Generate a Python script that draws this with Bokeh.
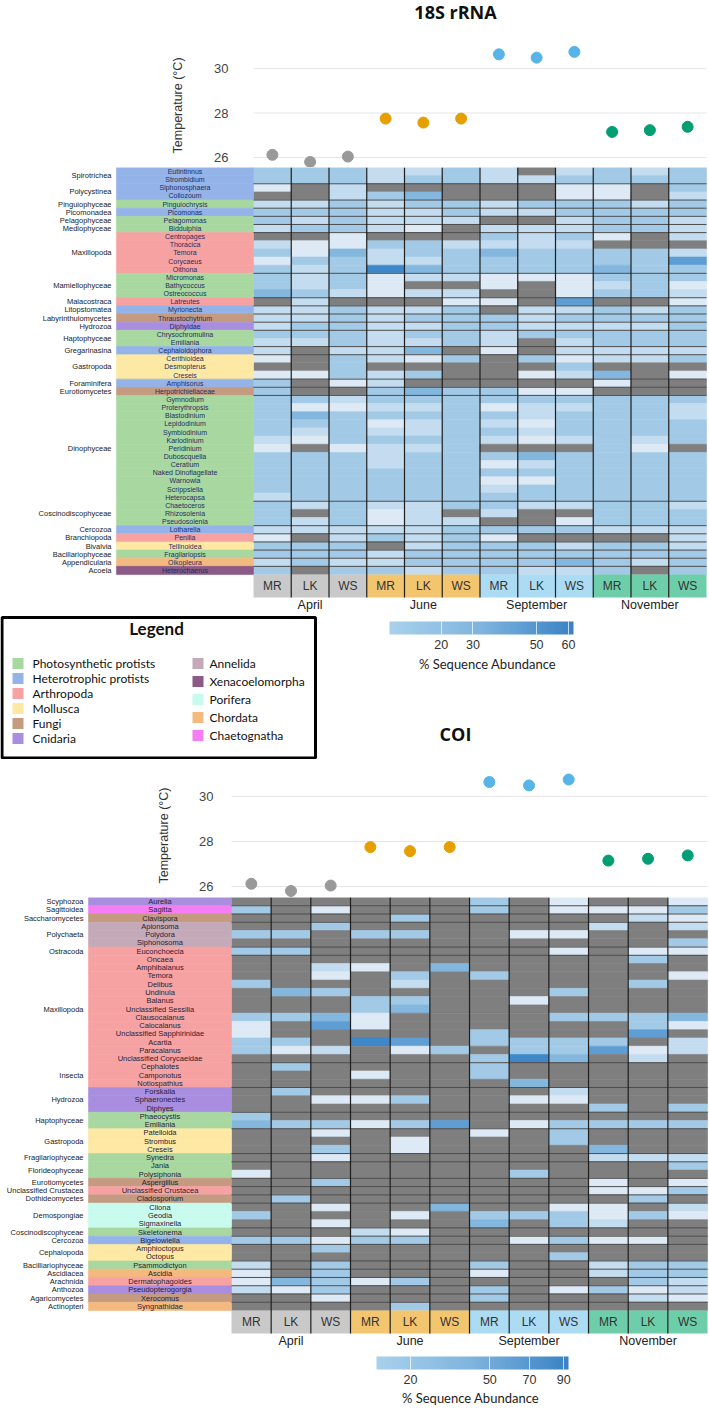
import math
from bokeh.plotting import figure
from bokeh.layouts import column
from bokeh.models import (ColumnDataSource, Range1d, LinearColorMapper, LogColorMapper,
                          ColorBar, FixedTicker, Label, CustomJSTickFormatter)
from bokeh.core.properties import value
from bokeh.embed import file_html
from bokeh.resources import INLINE

# ---------------------------------------------------------------- data
months = ["April", "June", "September", "November"]
sites = ["MR", "LK", "WS"]
month_colors = ["#999999", "#E69F00", "#56B4E9", "#009E73"]
header_colors = ["#c9c9c9", "#f2c56e", "#acdbf4", "#6fceaa"]
temperature = [26.12, 25.80, 26.04, 27.75, 27.57, 27.75, 30.64, 30.49, 30.75, 27.15, 27.23, 27.38]
temp_ticks = [26, 28, 30]

group_names = ["Photosynthetic protists", "Heterotrophic protists", "Arthropoda", "Mollusca",
               "Fungi", "Cnidaria", "Annelida", "Xenacoelomorpha", "Porifera", "Chordata",
               "Chaetognatha"]
group_codes = ["P", "H", "A", "M", "F", "C", "An", "X", "Po", "Ch", "Cg"]
group_colors = ["#a8d8a0", "#94b3e9", "#f7a2a2", "#fde8a4", "#c49a80", "#a98ee0",
                "#c4a9b9", "#8c5a86", "#c8fbee", "#f4b97f", "#f67ef4"]

# level code per cell: 0 = absent (grey), 1..6 = increasing abundance
level_percent = [float("nan"), 1.0, 3.0, 8.0, 16.0, 30.0, 55.0]

genus_18s = ["Eutintinnus", "Strombidium", "Siphonosphaera", "Collozoum", "Pinguiochrysis",
             "Picomonas", "Pelagomonas", "Biddulphia", "Centropages", "Thoracica", "Temora",
             "Corycaeus", "Oithona", "Micromonas", "Bathycoccus", "Ostreococcus", "Latreutes",
             "Myrionecta", "Thraustochytrium", "Diphyidae", "Chrysochromulina", "Emiliania",
             "Cephaloidophora", "Cerithioidea", "Desmopterus", "Creseis", "Amphisorus",
             "Herpotrichiellaceae", "Gymnodium", "Proterythropsis", "Blastodinium",
             "Lepidodinium", "Symbiodinium", "Karlodinium", "Peridinium", "Duboscquella",
             "Ceratium", "Naked Dinoflagellate", "Warnowia", "Scrippsiella", "Heterocapsa",
             "Chaetoceros", "Rhizosolenia", "Pseudosolenia", "Lotharella", "Penilia",
             "Tellinoidea", "Fragilariopsis", "Oikopleura", "Heterochaerus"]
class_names_18s = ["Spirotrichea", "Polycystinea", "Pinguiophyceae", "Picomonadea",
                   "Pelagophyceae", "Mediophyceae", "Maxillopoda", "Mamiellophyceae",
                   "Malacostraca", "Litopstomatea", "Labyrinthulomycetes", "Hydrozoa",
                   "Haptophyceae", "Gregarinasina", "Gastropoda", "Foraminifera",
                   "Eurotiomycetes", "Dinophyceae", "Coscinodiscophyceae", "Cercozoa",
                   "Branchiopoda", "Bivalvia", "Bacillariophyceae", "Appendicularia", "Acoela"]
class_sizes_18s = [2, 2, 1, 1, 1, 1, 5, 3, 1, 1, 1, 1, 2, 1, 3, 1, 1, 13, 3, 1, 1, 1, 1, 1, 1]
group_18s = ["H", "H", "H", "H", "P", "H", "P", "P", "A", "A", "A", "A", "A", "P", "P", "P",
             "A", "H", "F", "C", "P", "P", "H", "M", "M", "M", "H", "F",
             "P", "P", "P", "P", "P", "P", "P", "P", "P", "P", "P", "P", "P",
             "P", "P", "P", "H", "A", "M", "P", "Ch", "X"]
levels_18s = ["333223202323", "333233223333", "102000001103", "002340001102",
              "223233233323", "333223223333", "323222002332", "233210222332",
              "001000323102", "211332222000", "314233433332", "133223333335",
              "323643333433", "323122111333", "323100101231", "432122001332",
              "020001105001", "223223022323", "223233323333", "233223322223",
              "333233233333", "223223202333", "202240102222", "103213031223",
              "003000003000", "113230012401", "301200000100", "300343311000",
              "332333333333", "311223122332", "343333323332", "333123213333",
              "323223323333", "213333212323", "101223000310", "333233343333",
              "333233123333", "333333333333", "333333113333", "333333233333",
              "233333333333", "323223322332", "303120200333", "323122001333",
              "222223333222", "102323100002", "333023332332", "333233333333",
              "232233334323", "303323322303"]

genus_coi = ["Aurelia", "Sagitta", "Clavispora", "Apionsoma", "Polydora", "Siphonosoma",
             "Euconchoecia", "Oncaea", "Amphibalanus", "Temora", "Delibus", "Undinula",
             "Balanus", "Unclassified Sessilia", "Clausocalanus", "Calocalanus",
             "Unclassified Sapphirinidae", "Acartia", "Paracalanus", "Unclassified Corycaeidae",
             "Cephalotes", "Camponotus", "Notiospathius", "Forskalia", "Sphaeronectes",
             "Diphyes", "Phaeocystis", "Emiliania", "Patelloida", "Strombus", "Creseis",
             "Synedra", "Jania", "Polysiphonia", "Aspergillus", "Unclassified Crustacea",
             "Cladosporium", "Cliona", "Geodia", "Sigmaxinella", "Skeletonema", "Bigelowiella",
             "Amphioctopus", "Octopus", "Psammodictyon", "Ascidia", "Dermatophagoides",
             "Pseudopterogorgia", "Xerocomus", "Syngnathidae"]
class_names_coi = ["Scyphozoa", "Sagittoidea", "Saccharomycetes", "Polychaeta", "Ostracoda",
                   "Maxillopoda", "Insecta", "Hydrozoa", "Haptophyceae", "Gastropoda",
                   "Fragilariophyceae", "Florideophyceae", "Eurotiomycetes",
                   "Unclassified Crustacea", "Dothideomycetes", "Demospongiae",
                   "Coscinodiscophyceae", "Cercozoa", "Cephalopoda", "Bacilliariophyceae",
                   "Ascidiacea", "Arachnida", "Anthozoa", "Agaricomycetes", "Actinopteri"]
class_sizes_coi = [1, 1, 1, 3, 1, 13, 3, 3, 2, 3, 1, 2, 1, 1, 1, 3, 1, 1, 2, 1, 1, 1, 1, 1, 1]
group_coi = ["C", "Cg", "F", "An", "An", "An", "A",
             "A", "A", "A", "A", "A", "A", "A", "A", "A", "A", "A", "A", "A",
             "A", "A", "A", "C", "C", "C", "P", "P", "M", "M", "M", "P", "P", "P",
             "F", "A", "F", "Po", "Po", "Po", "P", "H", "M", "M", "P", "Ch", "A", "C", "F", "Ch"]
levels_coi = ["000000301001", "301000301113", "000030000021", "003000000202",
              "330330011000", "000000000003", "330000001011", "000000000030",
              "002104000000", "001030300001", "300020000030", "043000003000",
              "000330010000", "000340000000", "334100003334", "105100000031",
              "100000300050", "330650333302", "312013033512", "000000364020",
              "030000300000", "000100300000", "000000040000", "030000002000",
              "001130011000", "000000000303", "300000000000", "433135013333",
              "001000103000", "000010003000", "003010000400", "001000000222",
              "000000000003", "100000030000", "003000000101", "000000000113",
              "030000000030", "001004001102", "300010333131", "001000403200",
              "000210000000", "331330013110", "003000000000", "000000003000",
              "203000300233", "103000100233", "143130000032", "213000301312",
              "001000300021", "000030000000"]

cbar_18s_range = [3.75, 61.6]
cbar_18s_ticks = [20, 30, 50, 60]
cbar_coi_range = [11.3, 93.0]
cbar_coi_ticks = [20, 50, 70, 90]

# ---------------------------------------------------------------- styling helpers
W = 709
FONT = "Liberation Sans"


def hex2rgb(h):
    h = h.lstrip("#")
    return tuple(int(h[i:i + 2], 16) for i in (0, 2, 4))


def ramp(stops, n=256):
    out = []
    for k in range(n):
        t = k / (n - 1)
        for a in range(len(stops) - 1):
            t0, c0 = stops[a]
            t1, c1 = stops[a + 1]
            if t0 <= t <= t1:
                f = (t - t0) / (t1 - t0) if t1 > t0 else 0.0
                r0, r1 = hex2rgb(c0), hex2rgb(c1)
                out.append("#%02x%02x%02x" % tuple(round(r0[i] + (r1[i] - r0[i]) * f) for i in range(3)))
                break
    return out


L60 = math.log(60)
cell_palette = ramp([(0.0, "#dde9f5"), (math.log(3) / L60, "#c4dcef"), (math.log(8) / L60, "#a2cae6"),
                     (math.log(16) / L60, "#84b7de"), (math.log(30) / L60, "#5f9ed4"), (1.0, "#3a84c6")])
cell_mapper = LogColorMapper(palette=cell_palette, low=1, high=60, nan_color="#7f7f7f")
bar_palette = ramp([(0.0, "#a9d1ec"), (0.5, "#7fb4de"), (1.0, "#3a82c5")])

gcol = dict(zip(group_codes, group_colors))


def base_fig(height, xr, yr):
    p = figure(width=W, height=height, x_range=xr, y_range=yr, output_backend="svg",
               toolbar_location=None, min_border=0)
    p.background_fill_color = "white"
    p.border_fill_color = "white"
    p.outline_line_color = None
    p.xaxis.visible = False
    p.xgrid.visible = False
    p.ygrid.visible = False
    return p


def temp_band(height, heat_left, col_w, y_lo, y_hi, tick_standoff, label_x_px, label_y):
    p = base_fig(height, Range1d(-heat_left / col_w, (W - heat_left) / col_w), Range1d(y_lo, y_hi))
    ax = p.yaxis[0]
    ax.fixed_location = 0
    ax.ticker = FixedTicker(ticks=temp_ticks)
    ax.axis_line_color = None
    ax.major_tick_line_color = None
    ax.minor_tick_line_color = None
    ax.major_tick_out = 0
    ax.major_tick_in = 0
    ax.minor_tick_out = 0
    ax.minor_tick_in = 0
    ax.major_label_text_font = FONT
    ax.major_label_text_font_size = "13px"
    ax.major_label_text_color = "#444444"
    ax.major_label_standoff = tick_standoff
    p.add_layout(Label(x=(label_x_px - heat_left) / col_w, y=label_y, text="Temperature (°C)",
                       angle=math.pi / 2, text_align="center", text_baseline="middle",
                       text_font=FONT, text_font_size="12.5px", text_color="#333333"))
    p.segment(x0=0, x1=12, y0=temp_ticks, y1=temp_ticks, line_color="#e6e6e6", line_width=1)
    src = ColumnDataSource(dict(x=[i + 0.5 for i in range(12)], y=temperature,
                                c=[month_colors[i // 3] for i in range(12)]))
    p.scatter("x", "y", source=src, size=11, fill_color="c", line_color="c")
    return p


def heat_band(height, heat_left, col_w, row_h, genus, cnames, csizes, groups, levels,
              gen_left, cls_right, gen_fs, cls_fs, gen_color):
    n = len(genus)
    p = base_fig(height, Range1d(-heat_left / col_w, (W - heat_left) / col_w),
                 Range1d(-height / row_h, 0))
    p.yaxis.visible = False

    xs, ys, vs = [], [], []
    for i, s in enumerate(levels):
        for j, ch in enumerate(s):
            xs.append(j + 0.5)
            ys.append(-i - 0.5)
            vs.append(level_percent[int(ch)])
    src = ColumnDataSource(dict(x=xs, y=ys, v=vs))
    p.rect("x", "y", width=1, height=1, source=src,
           fill_color={"field": "v", "transform": cell_mapper},
           line_color={"field": "v", "transform": cell_mapper}, line_width=0.6)

    gsrc = ColumnDataSource(dict(top=[-i for i in range(n)], bottom=[-i - 1 for i in range(n)],
                                 c=[gcol[g] for g in groups], y=[-i - 0.5 for i in range(n)],
                                 t=genus))
    p.quad(left=gen_left, right=0, top="top", bottom="bottom", source=gsrc,
           fill_color="c", line_color="c", line_width=0.6)
    p.text(x=gen_left / 2, y="y", text="t", source=gsrc, text_align="center",
           text_baseline="middle", text_font=value(FONT), text_font_size=gen_fs,
           text_color=gen_color)

    cum, cy, bounds = 0, [], []
    for s in csizes:
        cy.append(-(cum + s / 2))
        cum += s
        bounds.append(cum)
    p.text(x=cls_right, y=cy, text=cnames, text_align="right", text_baseline="middle",
           text_font=value(FONT), text_font_size=cls_fs, text_color="#222222")

    hb = -n - 23 / row_h
    hsrc = ColumnDataSource(dict(l=list(range(12)), r=[j + 1 for j in range(12)],
                                 c=[header_colors[j // 3] for j in range(12)],
                                 x=[j + 0.5 for j in range(12)], t=sites * 4))
    p.quad(left="l", right="r", top=-n, bottom=hb, fill_color="c", line_color=None, source=hsrc)
    p.text(x="x", y=(-n + hb) / 2, text="t", source=hsrc, text_align="center",
           text_baseline="middle", text_font=value(FONT), text_font_size="12px",
           text_color="#333333")
    p.text(x=[1.5 + 3 * m for m in range(4)], y=hb - 7.5 / row_h, text=months,
           text_align="center", text_baseline="middle", text_font=value(FONT),
           text_font_size="12.5px", text_color="#222222")

    p.segment(x0=0, x1=12, y0=[-b for b in bounds[:-1]], y1=[-b for b in bounds[:-1]],
              line_color="#4d4d4d", line_width=1)
    p.segment(x0=list(range(1, 12)), x1=list(range(1, 12)), y0=0, y1=hb,
              line_color="#1e1e1e", line_width=1.2)
    return p


def color_bar(mapper, loc, width, ticker, formatter=None):
    kw = dict(color_mapper=mapper, orientation="horizontal", location=loc, width=width,
              height=13, padding=0, margin=0, ticker=ticker,
              major_label_text_font=FONT, major_label_text_font_size="12.5px",
              major_label_text_color="#333333", major_tick_line_color="white",
              major_tick_line_alpha=0.7, major_tick_in=13, major_tick_out=0,
              minor_tick_line_color=None, bar_line_color=None, border_line_color=None,
              background_fill_alpha=0, label_standoff=5)
    if formatter is not None:
        kw["formatter"] = formatter
    return ColorBar(**kw)


# ---------------------------------------------------------------- 18S (top)
C18, H18, R18 = 37.75, 253, 8.14
Y18_TOP = 33.06
top18 = temp_band(167, H18, C18, 25.55, Y18_TOP, 25, 177, Y18_TOP - 105 / 22.25)
top18.add_layout(Label(x=(455 - H18) / C18, y=Y18_TOP - 11.5 / 22.25, text="18S rRNA",
                       text_align="center", text_baseline="middle", text_font="Open Sans",
                       text_font_style="bold", text_font_size="18px", text_color="#111111"))
heat18 = heat_band(445, H18, C18, R18, genus_18s, class_names_18s, class_sizes_18s,
                   group_18s, levels_18s, (116 - H18) / C18, (111 - H18) / C18,
                   "7px", "7.5px", "#1f2f5e")

# ---------------------------------------------------------------- legend + colour bar band
mid = base_fig(147, Range1d(0, W), Range1d(0, 147))
mid.yaxis.visible = False
mid.quad(left=1.5, right=315, bottom=1.5, top=142, fill_color=None, line_color="black",
         line_width=3)
lsrc = ColumnDataSource(dict(
    x=[17.5] * 6 + [197.5] * 5,
    tx=[32] * 6 + [209] * 5,
    y=[96 - 15 * i for i in range(6)] + [96 - 18 * k for k in range(5)],
    c=group_colors, t=group_names))
mid.rect("x", "y", width=11, height=11, source=lsrc, fill_color="c", line_color=None)
mid.text("tx", "y", text="t", source=lsrc, text_baseline="middle", text_font=value("Lato"),
         text_font_size="12px", text_color="#111111")
mid.add_layout(Label(x=156, y=131, text="Legend", text_align="center", text_baseline="middle",
                     text_font="Lato", text_font_style="bold", text_font_size="17px",
                     text_color="#111111"))
bar_map18 = LinearColorMapper(palette=bar_palette, low=cbar_18s_range[0], high=cbar_18s_range[1])
mid.add_layout(color_bar(bar_map18, (389, 108), 184, FixedTicker(ticks=cbar_18s_ticks)))
mid.add_layout(Label(x=487, y=96, text="% Sequence Abundance", text_align="center",
                     text_baseline="middle", text_font="Lato", text_font_size="13px",
                     text_color="#222222"))
mid.add_layout(Label(x=455, y=26, text="COI", text_align="center", text_baseline="middle",
                     text_font="Open Sans", text_font_style="bold", text_font_size="18px",
                     text_color="#111111"))

# ---------------------------------------------------------------- COI
CC, HC, RC = 39.67, 231, 8.26
YC_TOP = 31.64
topcoi = temp_band(138, HC, CC, 25.51, YC_TOP, 18, 163, YC_TOP - (835 - 759) / 22.51)
heatcoi = heat_band(513, HC, CC, RC, genus_coi, class_names_coi, class_sizes_coi,
                    group_coi, levels_coi, (88 - HC) / CC, (83 - HC) / CC,
                    "7.5px", "7.5px", "#2a2233")
bar_mapc = LinearColorMapper(palette=bar_palette, low=math.sqrt(cbar_coi_range[0]),
                             high=math.sqrt(cbar_coi_range[1]))
heatcoi.add_layout(color_bar(bar_mapc, (376, 24), 192,
                             FixedTicker(ticks=[math.sqrt(t) for t in cbar_coi_ticks]),
                             CustomJSTickFormatter(code="return Math.round(tick*tick).toString();")))
heatcoi.add_layout(Label(x=(470 - HC) / CC, y=-(1397 - 897) / RC, text="% Sequence Abundance",
                         text_align="center", text_baseline="middle", text_font="Lato",
                         text_font_size="13px", text_color="#222222"))

layout = column(top18, heat18, mid, topcoi, heatcoi)
open("out.html", "w").write(file_html(layout, INLINE))
